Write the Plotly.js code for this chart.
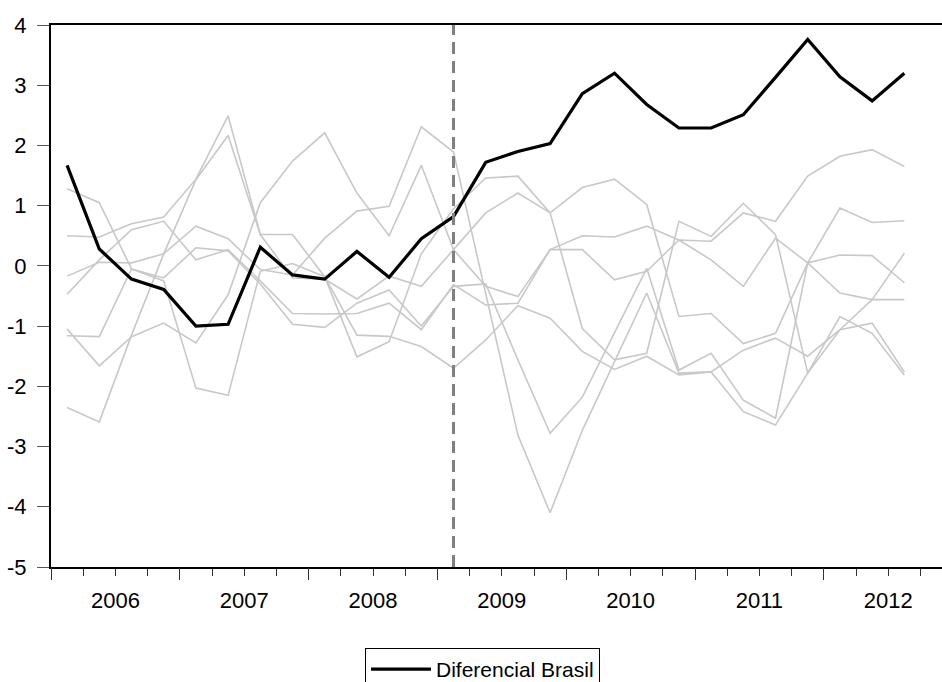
<!DOCTYPE html>
<html>
<head>
<meta charset="utf-8">
<script src="https://cdn.plot.ly/plotly-3.0.1.min.js"></script>
<style>
html,body{margin:0;padding:0;background:#fff;}
#chart{width:942px;height:682px;}
</style>
</head>
<body>
<div id="chart"></div>
<script>
// Quarterly periods 2006Q1 .. 2012Q3
var years = ['2006','2007','2008','2009','2010','2011','2012'];
var quarters = [];
years.forEach(function(y){ for (var q=1;q<=4;q++) quarters.push(y+'Q'+q); });
quarters = quarters.slice(0, 27);

var breakQuarter = '2009Q1';

// Main series
var diferencialBrasil = [1.67,0.28,-0.22,-0.39,-1.00,-0.97,0.31,-0.15,-0.22,0.24,-0.19,0.45,0.82,1.72,1.90,2.03,2.86,3.20,2.68,2.29,2.29,2.51,3.13,3.76,3.14,2.74,3.20];

// Comparison series (grey)
var serieA = [1.28,1.05,-0.05,-0.25,-2.03,-2.15,-0.09,0.04,-0.18,-1.15,-1.17,-1.34,-1.70,-1.23,-0.66,-0.87,-1.42,-1.72,-1.50,-1.81,-1.76,-1.40,-1.20,-1.50,-1.06,-0.56,-0.56];
var serieB = [0.50,0.48,0.70,0.81,1.44,2.49,0.52,0.52,-0.18,-1.51,-1.26,0.20,0.95,1.46,1.49,0.88,-1.04,-1.56,-1.45,0.74,0.49,1.04,0.52,-1.78,-0.84,-1.12,-1.81];
var serieC = [-2.35,-2.59,-1.15,0.20,1.43,2.165,0.52,-0.20,-0.22,-0.55,-0.17,-0.34,0.27,0.88,1.21,0.88,1.30,1.44,1.02,-0.84,-0.79,-1.29,-1.12,0.05,-0.45,-0.56,0.21];
var serieD = [-1.05,-1.66,-1.175,-0.95,-1.28,-0.48,1.05,1.74,2.21,1.21,0.50,1.67,0.27,-0.34,-0.51,0.27,0.50,0.48,0.66,0.43,0.10,-0.34,0.46,0.05,0.18,0.17,-0.28];
var serieE = [-0.17,0.06,0.05,0.20,0.66,0.45,-0.06,-0.15,0.46,0.91,0.99,2.31,1.89,-0.45,-2.81,-4.10,-2.73,-1.59,-0.45,-1.78,-1.76,-2.42,-2.64,-1.78,-1.06,-0.95,-1.76];
var serieF = [-0.47,0.10,0.60,0.74,0.10,0.27,-0.25,-0.79,-0.80,-0.79,-0.62,-1.06,-0.31,-0.65,-0.62,0.27,0.27,-0.23,-0.09,0.43,0.41,0.88,0.74,1.49,1.82,1.93,1.65];
var serieG = [-1.16,-1.175,-0.05,-0.20,0.30,0.25,-0.30,-0.97,-1.02,-0.62,-0.40,-1.00,-0.34,-0.30,-1.56,-2.78,-2.18,-1.11,-0.04,-1.73,-1.45,-2.23,-2.53,0.05,0.96,0.72,0.75];

var greySeries = [serieA, serieB, serieC, serieD, serieE, serieF, serieG];

var yTickVals = [4,3,2,1,0,-1,-2,-3,-4,-5];
var yTickText = ['4','3','2','1','0','-1','-2','-3','-4','-5'];

// positions along the axis: one unit per quarter
var xPos = quarters.map(function(q,i){ return i; });
var yearCenters = years.map(function(y){ return quarters.indexOf(y+'Q1') + 1.5; });
var yearStarts = years.map(function(y){ return quarters.indexOf(y+'Q1') - 0.5; });
var breakPos = quarters.indexOf(breakQuarter);

var traces = [];
greySeries.forEach(function(s){
  traces.push({x:xPos, y:s, type:'scatter', mode:'lines',
    line:{color:'#c8c8c8', width:1.6}, showlegend:false, hoverinfo:'skip'});
});
traces.push({x:xPos, y:diferencialBrasil, type:'scatter', mode:'lines',
  name:'Diferencial Brasil', line:{color:'#000000', width:3.2}});
// transparent helper trace so the major-tick axis is drawn
traces.push({x:[xPos[0]], y:[diferencialBrasil[0]], xaxis:'x2', type:'scatter', mode:'markers',
  marker:{opacity:0}, showlegend:false, hoverinfo:'skip'});

var fontFam = 'Arial, "Liberation Sans", Helvetica, sans-serif';
var xRange = [-0.5, 27.17];

var layout = {
  width:942, height:682,
  margin:{l:51, r:0, t:25, b:115, autoexpand:false},
  paper_bgcolor:'#ffffff', plot_bgcolor:'#ffffff',
  font:{family:fontFam, size:21, color:'#000'},
  showlegend:true,
  legend:{orientation:'h', xref:'container', yref:'container',
    x:0.3875, xanchor:'left', y:0.0499, yanchor:'top',
    bordercolor:'#000', borderwidth:1, bgcolor:'#fff',
    font:{family:fontFam, size:21, color:'#000'}, itemwidth:60},
  xaxis:{range:xRange, showgrid:false, zeroline:false,
    showline:true, linecolor:'#000', linewidth:2, mirror:true,
    tickmode:'array', tickvals:yearCenters, ticktext:years,
    ticks:'', ticklen:0, ticklabelstandoff:13,
    tickfont:{family:fontFam, size:22, color:'#000'},
    minor:{tickmode:'linear', tick0:-0.5, dtick:1, ticks:'outside', ticklen:7, tickwidth:1, tickcolor:'#333'}},
  xaxis2:{range:xRange, overlaying:'x', side:'bottom', anchor:'y',
    showgrid:false, zeroline:false, showline:false,
    tickmode:'array', tickvals:yearStarts, showticklabels:false,
    ticks:'outside', ticklen:12, tickwidth:1, tickcolor:'#333'},
  yaxis:{range:[-5,4], showgrid:false, zeroline:false,
    showline:true, linecolor:'#000', linewidth:2,
    tickmode:'array', tickvals:yTickVals, ticktext:yTickText,
    ticks:'outside', ticklen:12, tickwidth:1, tickcolor:'#555', ticklabelstandoff:6,
    tickfont:{family:fontFam, size:22, color:'#000'}},
  shapes:[{type:'line', xref:'x', yref:'paper', x0:breakPos, x1:breakPos, y0:0, y1:1,
    line:{color:'#808080', width:3, dash:'12px,7px'}}]
};

Plotly.newPlot('chart', traces, layout, {displayModeBar:false, staticPlot:true});
</script>
</body>
</html>
